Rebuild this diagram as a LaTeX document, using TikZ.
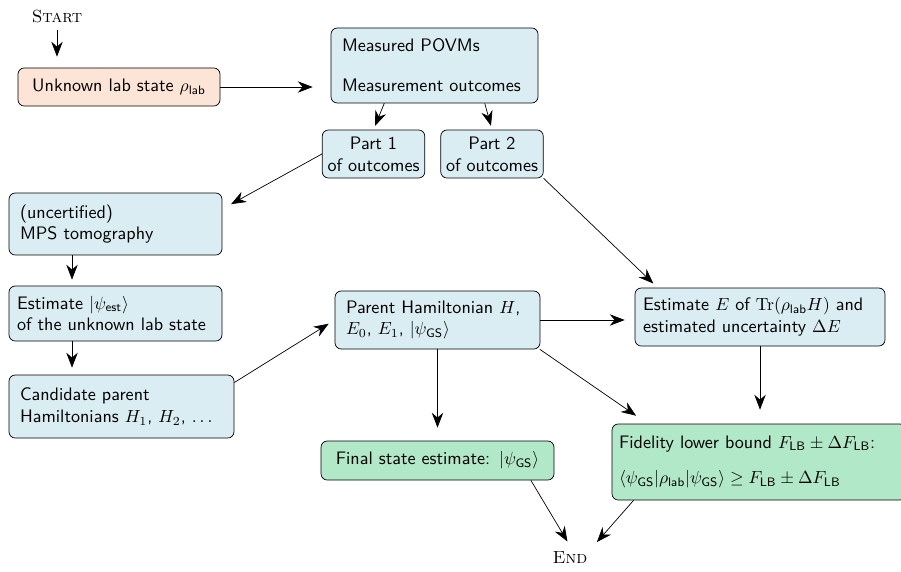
\documentclass[tikz,border=0pt]{standalone}
\usepackage{tikz}
\usetikzlibrary{arrows.meta}
\usepackage{xcolor}
\definecolor{SoftPeach}{RGB}{252,228,214}
\definecolor{SoftCyan}{RGB}{217,237,243}
\definecolor{SoftMint}{RGB}{176,232,200}
\tikzset{
  infobox/.style={draw, rounded corners=3.5pt, fill=SoftCyan,
    inner xsep=0.22cm, inner ysep=2pt, align=left,
    font=\fontsize{10.3pt}{12.4pt}\selectfont\sffamily},
  labbox/.style={infobox, fill=SoftPeach, align=center},
  partbox/.style={infobox, inner xsep=1pt, text width=1.98cm, align=center,
    minimum height=0.96cm},
  resultbox/.style={infobox, fill=SoftMint},
  terminal/.style={font=\scshape},
  flowarrow/.style={-{Stealth[length=8.5pt,width=6.5pt]}, shorten >=0.12cm}
}

\begin{document}
\begin{tikzpicture}[x=0.02cm, y=-0.02cm]
      \useasboundingbox (0,0) rectangle (901,571);
      \node[terminal] (start) at (57,17) {Start};
      \node[labbox, text width=3.6cm, minimum height=0.76cm] (lab) at (119,87)
        {Unknown lab state $\rho_{\mathsf{lab}}$};
      \node[infobox, text width=3.7cm, minimum height=1.5cm] (povm) at (434.5,65.5)
        {Measured POVMs\\[0.36cm]Measurement outcomes};
      \node[partbox] (part1) at (373.5,154) {Part 1\\of outcomes};
      \node[partbox] (part2) at (492,154) {Part 2\\of outcomes};
      \node[infobox, text width=3.82cm, minimum height=1.24cm] (tomo) at (115.5,224)
        {(uncertified)\\MPS tomography};
      \node[infobox, inner xsep=0.16cm, text width=3.94cm, minimum height=1.1cm] (est) at (115.5,313.5)
        {Estimate $|\psi_{\mathsf{est}}\rangle$\\of the unknown lab state};
      \node[infobox, text width=4.06cm, minimum height=1.26cm] (cand) at (121.5,406.5)
        {Candidate parent\\Hamiltonians $H_1$, $H_2$, $\dots$};
      \node[infobox, text width=3.66cm, minimum height=1.16cm] (parent) at (437.5,320)
        {Parent Hamiltonian $H$,\\$E_0$, $E_1$, $|\psi_{\mathsf{GS}}\rangle$};
      \node[infobox, inner xsep=0.16cm, text width=4.68cm, minimum height=1.16cm] (energy) at (760,317)
        {Estimate $E$ of $\mathrm{Tr}(\rho_{\mathsf{lab}}H)$ and\\estimated uncertainty $\Delta E$};
      \node[resultbox, text width=4.22cm, align=center, minimum height=0.78cm] (final) at (437.5,460.5)
        {Final state estimate: $|\psi_{\mathsf{GS}}\rangle$};
      \node[resultbox, inner xsep=0.14cm, text width=5.6cm, minimum height=1.52cm] (fid) at (759,462)
        {Fidelity lower bound $F_{\mathsf{LB}}\pm\Delta F_{\mathsf{LB}}$:\\[0.28cm]%
         $\langle\psi_{\mathsf{GS}}|\rho_{\mathsf{lab}}|\psi_{\mathsf{GS}}\rangle\geq F_{\mathsf{LB}}\pm\Delta F_{\mathsf{LB}}$};
      \node[terminal] (end) at (570,558) {End};
      \draw[flowarrow, shorten >=0.22cm] (start) -- (start |- lab.north);
      \draw[flowarrow, shorten >=0.36cm] (lab.east) -- (lab.east -| povm.west);
      \draw[flowarrow, shorten >=0.08cm] (povm.217) -- (part1.north);
      \draw[flowarrow, shorten >=0.08cm] (povm.323) -- (part2.north);
      \draw[flowarrow, shorten >=0.2cm] (part1.west) -- (tomo.8.5);
      \draw[flowarrow] ([xshift=-0.87cm]tomo.south) -- ([xshift=-0.87cm]est.north);
      \draw[flowarrow, shorten >=0.14cm] ([xshift=-0.87cm]est.south) -- ([xshift=-0.87cm]est.south |- cand.north);
      \draw[flowarrow, shorten >=0.14cm] (cand.12) -- (parent.west);
      \draw[flowarrow, shorten >=0.2cm] (parent.east) -- (parent.east -| energy.west);
      \draw[flowarrow] (part2.south east) -- (energy.164.7);
      \draw[flowarrow, shorten >=0.26cm] (parent.south) -- (final.north);
      \draw[flowarrow, shorten >=0.28cm] (parent.-16.6) -- (fid.161.7);
      \draw[flowarrow, shorten >=0.28cm] (energy.south) -- (energy.south |- fid.north);
      \draw[flowarrow, shorten >=0.1cm] (final.-12) -- (end.north);
      \draw[flowarrow, shorten >=0.1cm] (fid.197.2) -- (end.north east);
    \end{tikzpicture}
\end{document}
